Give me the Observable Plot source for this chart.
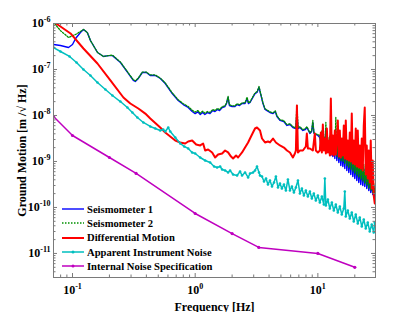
<!DOCTYPE html>
<html><head><meta charset="utf-8">
<script src="https://cdn.jsdelivr.net/npm/d3@7"></script>
<script src="https://cdn.jsdelivr.net/npm/@observablehq/plot@0.6"></script>
<style>
html,body{margin:0;padding:0;background:#fff;}
#wrap{position:relative;width:415px;height:312px;font-family:"Liberation Serif",serif;font-weight:bold;}
#legend{position:absolute;left:62px;top:202px;font-size:10.6px;color:#000;}
.row{display:flex;align-items:center;height:14.3px;white-space:nowrap;}
.row svg{margin-right:3px;display:block;}
</style></head><body><div id="wrap"><div id="chart"></div><div id="legend"></div></div>
<script>
// ---- data ----
const seriesNames = ["Seismometer 1","Seismometer 2","Differential Motion","Apparent Instrument Noise","Internal Noise Specification"];
const seriesColors = ["#0000ff","#009000","#ff0000","#00bfbf","#bf00bf"];

const fDense = [10.38,10.58,10.78,10.98,11.19,11.40,11.62,11.84,12.06,12.29,12.52,12.76,13.00,13.24,13.49,13.75,14.01,14.27,14.54,14.82,15.10,15.38,15.67,15.97,16.27,16.58,16.89,17.21,17.54,17.87,18.21,18.55,18.90,19.26,19.62,19.99,20.37,20.76,21.15,21.55,21.96,22.37,22.80,23.23,23.67,24.11,24.57,25.03,25.51,25.99,26.48,26.98,27.49,28.01,28.54,29.08];

const seis1Freq = [0.0701,0.0798,0.0928,0.1,0.106,0.116,0.123,0.132,0.140,0.160,0.179,0.195,0.212,0.246,0.285,0.313,0.325,0.344,0.371,0.40,0.43,0.473,0.52,0.57,0.65,0.727,0.80,0.877,0.945,1.0,1.05,1.1,1.15,1.2,1.26,1.32,1.39,1.45,1.52,1.58,1.66,1.75,1.80,1.854,1.90,2.0,2.11,2.2,2.3,2.41,2.55,2.647,2.72,2.8,2.95,3.075,3.19,3.314,3.44,3.57,3.71,3.85,4.07,4.31,4.5,4.64,4.91,5.28,5.60,5.92,6.26,6.6,6.75,6.9,7.14,7.55,7.9,8.15,8.61,8.9,9.10,9.3,9.6,10.0];
const seis1Amp = [3.5e-7,3.32e-7,3.0e-7,3.5e-7,4.72e-7,6.37e-7,7.4e-7,6.37e-7,4.27e-7,2.34e-7,1.92e-7,2.0e-7,2.0e-7,1.42e-7,8.2e-8,5.8e-8,5.5e-8,6.4e-8,8.6e-8,8.6e-8,7.4e-8,7.4e-8,6.37e-8,4.96e-8,3.0e-8,2.12e-8,1.73e-8,1.49e-8,1.22e-8,1.10e-8,1.2e-8,1.05e-8,1.16e-8,1.05e-8,1.16e-8,1.10e-8,1.28e-8,1.22e-8,1.35e-8,1.28e-8,1.49e-8,1.57e-8,1.82e-8,2.46e-8,1.65e-8,1.57e-8,1.57e-8,1.73e-8,1.65e-8,1.82e-8,1.82e-8,2.34e-8,1.82e-8,1.92e-8,2.46e-8,3.0e-8,3.16e-8,4.06e-8,2.72e-8,1.82e-8,1.35e-8,1.28e-8,1.16e-8,1.10e-8,1.22e-8,9.5e-9,7.8e-9,7.4e-9,6.07e-9,6.37e-9,5.48e-9,5.2e-9,1.05e-8,5.2e-9,5.48e-9,4.72e-9,4.96e-9,5.48e-9,4.06e-9,4.49e-9,7.05e-9,4.06e-9,3.87e-9,3.68e-9];
const seis1AmpDense = [3.32e-9,2.23e-9,3.87e-9,2.12e-9,3.16e-9,1.92e-9,5.21e-9,1.73e-9,2.86e-9,1.57e-9,3.16e-9,1.35e-9,2.59e-9,1.28e-9,2.86e-9,1.16e-9,3.87e-9,1.05e-9,2.23e-9,9.5e-10,2.12e-9,8.19e-10,1.92e-9,7.78e-10,1.73e-9,7.05e-10,2.86e-9,6.37e-10,1.57e-9,5.77e-10,1.35e-9,5.21e-10,1.73e-9,4.72e-10,1.16e-9,4.27e-10,1.05e-9,3.87e-10,9.5e-10,3.50e-10,8.19e-10,3.16e-10,7.78e-10,3.01e-10,7.05e-10,2.86e-10,6.37e-10,2.59e-10,5.21e-10,2.34e-10,4.27e-10,2.12e-10,3.50e-10,1.92e-10,2.86e-10,1.73e-10];

const seis2Freq = [0.0714,0.0798,0.0928,0.106,0.116,0.123,0.132,0.140,0.160,0.179,0.195,0.212,0.246,0.285,0.313,0.325,0.344,0.371,0.40,0.43,0.473,0.52,0.57,0.65,0.727,0.80,0.877,0.945,1.0,1.05,1.1,1.15,1.2,1.26,1.32,1.39,1.45,1.52,1.58,1.66,1.75,1.80,1.854,1.90,2.0,2.11,2.2,2.3,2.41,2.55,2.647,2.72,2.8,2.95,3.075,3.19,3.314,3.44,3.57,3.71,3.85,4.07,4.31,4.5,4.64,4.91,5.28,5.60,5.92,6.26,6.6,6.75,6.9,7.14,7.55,7.9,8.15,8.61,8.9,9.10,9.3,9.6,10.0];
const seis2Amp = [1.0e-6,7.0e-7,4.96e-7,5.77e-7,6.7e-7,7.4e-7,6.37e-7,4.27e-7,2.34e-7,1.92e-7,2.0e-7,2.05e-7,1.45e-7,8.4e-8,6.0e-8,5.7e-8,6.5e-8,8.8e-8,8.8e-8,7.6e-8,7.6e-8,6.5e-8,5.1e-8,3.1e-8,2.2e-8,1.8e-8,1.57e-8,1.3e-8,1.18e-8,1.28e-8,1.12e-8,1.24e-8,1.12e-8,1.22e-8,1.16e-8,1.35e-8,1.28e-8,1.42e-8,1.35e-8,1.55e-8,1.62e-8,1.9e-8,2.6e-8,1.72e-8,1.62e-8,1.62e-8,1.8e-8,1.7e-8,1.88e-8,1.88e-8,2.5e-8,1.88e-8,1.98e-8,2.55e-8,3.1e-8,3.3e-8,4.27e-8,2.8e-8,1.88e-8,1.4e-8,1.32e-8,1.2e-8,1.14e-8,1.26e-8,9.8e-9,8.1e-9,7.7e-9,6.3e-9,6.6e-9,5.7e-9,5.4e-9,1.65e-8,5.4e-9,5.7e-9,4.9e-9,5.2e-9,5.7e-9,4.2e-9,4.7e-9,7.78e-9,4.2e-9,4.0e-9,3.8e-9];
const seis2AmpDense = [3.68e-9,2.59e-9,4.72e-9,2.46e-9,3.50e-9,2.23e-9,7.05e-9,2.01e-9,3.32e-9,1.82e-9,3.68e-9,1.65e-9,3.01e-9,1.57e-9,3.32e-9,1.42e-9,9.05e-9,1.28e-9,2.59e-9,1.16e-9,2.46e-9,1.05e-9,2.23e-9,1.0e-9,2.01e-9,9.05e-10,3.50e-9,8.19e-10,1.82e-9,7.41e-10,1.73e-9,6.70e-10,2.01e-9,6.07e-10,1.42e-9,5.48e-10,1.28e-9,4.96e-10,1.16e-9,4.49e-10,1.05e-9,4.06e-10,9.5e-10,3.68e-10,8.6e-10,3.32e-10,7.78e-10,3.01e-10,6.37e-10,2.59e-10,5.21e-10,2.34e-10,4.27e-10,2.12e-10,3.32e-10,1.92e-10];

const diffFreq = [0.0714,0.0798,0.0964,0.1228,0.1597,0.2037,0.260,0.296,0.344,0.392,0.4305,0.519,0.570,0.626,0.688,0.755,0.829,0.877,0.945,1.019,1.098,1.161,1.206,1.275,1.375,1.454,1.538,1.658,1.753,1.854,1.96,2.037,2.154,2.237,2.41,2.55,2.70,2.80,2.96,3.075,3.19,3.314,3.376,3.505,3.71,3.92,4.07,4.31,4.55,4.91,5.29,5.60,5.92,6.26,6.50,6.62,6.75,6.88,7.14,7.55,7.98,8.13,8.29,8.61,9.10,9.45,9.63,10.0];
const diffAmp = [1.05e-6,8.6e-7,6.07e-7,2.86e-7,1.35e-7,5.77e-8,2.46e-8,1.82e-8,1.42e-8,1.10e-8,8.6e-9,5.48e-9,4.27e-9,3.50e-9,2.86e-9,2.59e-9,2.46e-9,2.72e-9,2.86e-9,2.34e-9,2.23e-9,2.46e-9,1.73e-9,1.82e-9,1.57e-9,1.22e-9,1.42e-9,1.49e-9,1.73e-9,1.57e-9,1.28e-9,1.16e-9,1.35e-9,1.22e-9,1.57e-9,2.01e-9,2.59e-9,3.16e-9,4.27e-9,5.21e-9,5.48e-9,4.96e-9,4.72e-9,3.16e-9,2.59e-9,2.72e-9,2.59e-9,3.16e-9,2.59e-9,2.23e-9,2.01e-9,1.73e-9,1.57e-9,1.22e-9,1.49e-9,1.73e-9,1.65e-8,1.57e-9,1.73e-9,1.73e-9,2.12e-9,4.06e-9,1.92e-9,1.92e-9,1.73e-9,4.06e-9,1.73e-9,1.57e-9];
const diffAmpDense = [1.73e-9,4.27e-9,1.57e-9,6.37e-9,1.73e-9,3.16e-9,1.49e-9,5.21e-9,1.57e-9,2.86e-9,1.35e-9,2.34e-8,1.42e-9,3.68e-9,1.35e-9,4.72e-9,1.42e-9,2.86e-9,7.78e-9,1.28e-9,4.72e-9,1.22e-9,3.16e-9,1.35e-9,6.07e-9,1.16e-9,7.78e-9,1.10e-9,2.86e-9,1.05e-9,4.27e-9,1.0e-9,1.10e-8,9.05e-10,2.86e-9,8.6e-10,5.21e-9,7.78e-10,4.72e-9,7.41e-10,2.23e-9,7.05e-10,3.16e-9,6.37e-10,6.07e-9,1.49e-8,5.21e-10,2.23e-9,4.27e-10,1.73e-9,3.50e-10,2.86e-9,2.59e-10,1.05e-9,1.82e-10,1.22e-10];

const appFreqLow = [0.0701,0.0798,0.0946,0.1078,0.1228,0.140,0.1597,0.1854,0.2115,0.2455,0.280,0.3076,0.3377,0.378,0.4305,0.473,0.519,0.549,0.570,0.603,0.626,0.688,0.755,0.814,0.877,0.945,1.0,1.098,1.206,1.324,1.427,1.509,1.597,1.658,1.753,1.854,1.925,2.037,2.195,2.321,2.41,2.55,2.70,2.80,2.96,3.075,3.19,3.314,3.376];
const appAmpLow = [3.0e-7,2.46e-7,1.92e-7,1.42e-7,1.0e-7,7.4e-8,5.2e-8,3.68e-8,2.72e-8,2.01e-8,1.49e-8,1.16e-8,9.05e-9,7.05e-9,5.77e-9,5.21e-9,4.72e-9,4.96e-9,4.49e-9,5.48e-9,4.49e-9,3.32e-9,2.46e-9,2.12e-9,1.92e-9,1.57e-9,1.49e-9,1.22e-9,1.05e-9,9.5e-10,7.78e-10,7.41e-10,7.78e-10,6.70e-10,6.37e-10,5.77e-10,6.37e-10,5.21e-10,4.96e-10,6.07e-10,4.96e-10,5.77e-10,4.49e-10,5.48e-10,5.77e-10,6.37e-10,7.78e-10,5.77e-10,4.96e-10];
const appFreqHigh = [3.505,3.64,3.78,3.92,4.07,4.23,4.39,4.55,4.73,4.91,5.09,5.29,5.49,5.70,5.92,6.14,6.38,6.62,6.88,7.14,7.41,7.69,7.98,8.29,8.61,8.93,9.27,9.63,10.0,10.38,10.78,11.19,11.40,11.62,12.06,12.52,13.00,13.49,14.01,14.54,15.10,15.67,16.27,16.58,16.89,17.54,18.21,18.90,19.62,20.37,21.15,21.96,22.80,23.67,24.57,25.51,26.48,27.49,28.54,29.08];
const appAmpHigh = [4.72e-10,3.68e-10,4.27e-10,3.16e-10,3.87e-10,2.86e-10,3.50e-10,4.72e-10,2.72e-10,3.32e-10,2.59e-10,3.16e-10,2.34e-10,4.06e-10,2.34e-10,2.86e-10,2.12e-10,2.72e-10,3.87e-10,2.01e-10,2.59e-10,1.82e-10,2.34e-10,1.73e-10,2.23e-10,1.57e-10,2.01e-10,1.42e-10,1.82e-10,1.28e-10,1.73e-10,1.16e-10,4.27e-10,1.10e-10,1.49e-10,9.5e-11,1.28e-10,8.6e-11,1.16e-10,7.78e-11,1.05e-10,7.05e-11,9.5e-11,2.23e-10,6.37e-11,8.6e-11,5.77e-11,7.78e-11,4.96e-11,7.05e-11,4.49e-11,6.07e-11,3.87e-11,5.48e-11,3.50e-11,4.72e-11,3.01e-11,4.27e-11,2.86e-11,4.72e-11];

const specFreq = [0.07,0.1,0.2,0.33,1,2,3.3,10,20];
const specAmp = [9.5e-9,3.67e-9,1.22e-9,5.5e-10,7.4e-11,2.7e-11,1.35e-11,1.0e-11,5.0e-12];

const xMajor = [0.1,1,10];
const xMinor = [0.07,0.08,0.09,0.2,0.3,0.4,0.5,0.6,0.7,0.8,0.9,2,3,4,5,6,7,8,9,20];
const yMajor = [1e-11,1e-10,1e-9,1e-8,1e-7,1e-6];
const yMinor = [3e-12,4e-12,5e-12,6e-12,7e-12,8e-12,9e-12,
 2e-11,3e-11,4e-11,5e-11,6e-11,7e-11,8e-11,9e-11,
 2e-10,3e-10,4e-10,5e-10,6e-10,7e-10,8e-10,9e-10,
 2e-9,3e-9,4e-9,5e-9,6e-9,7e-9,8e-9,9e-9,
 2e-8,3e-8,4e-8,5e-8,6e-8,7e-8,8e-8,9e-8,
 2e-7,3e-7,4e-7,5e-7,6e-7,7e-7,8e-7,9e-7];

// ---- tables ----
const toRows = (fs, vs) => fs.map((f, i) => ({f, v: vs[i]}));
const seis1 = toRows(seis1Freq.concat(fDense), seis1Amp.concat(seis1AmpDense));
const seis2 = toRows(seis2Freq.concat(fDense), seis2Amp.concat(seis2AmpDense));
const diff = toRows(diffFreq.concat(fDense), diffAmp.concat(diffAmpDense));
const app = toRows(appFreqLow.concat(appFreqHigh), appAmpLow.concat(appAmpHigh));
const spec = toRows(specFreq, specAmp);

const W = 415, H = 312, mL = 53, mT = 23, mR = 40, mB = 35;
const iw = W - mL - mR, ih = H - mT - mB;
const gray = "#7a7a7a";
const majorLen = 4, minorLen = 2.5;
const fmt = d => "10^" + Math.round(Math.log10(d));

const chart = Plot.plot({
  width: W, height: H,
  marginLeft: mL, marginTop: mT, marginRight: mR, marginBottom: mB,
  x: {type: "log", domain: [0.07, 29.5]},
  y: {type: "log", domain: [3e-12, 1e-6]},
  style: {fontFamily: "'Liberation Serif', serif", fontWeight: "bold", fontSize: "11.5px", color: "#000", background: "#fff"},
  marks: [
    Plot.line(seis1, {x: "f", y: "v", stroke: seriesColors[0], strokeWidth: 1.4, clip: true}),
    Plot.line(seis2, {x: "f", y: "v", stroke: seriesColors[1], strokeWidth: 1.3, strokeDasharray: "1.5,1.5", clip: true}),
    Plot.line(diff, {x: "f", y: "v", stroke: seriesColors[2], strokeWidth: 2, clip: true}),
    Plot.line(app, {x: "f", y: "v", stroke: seriesColors[3], strokeWidth: 1.5, clip: true}),
    Plot.dot(app, {x: "f", y: "v", r: 1.3, fill: seriesColors[3], clip: true}),
    Plot.line(spec, {x: "f", y: "v", stroke: seriesColors[4], strokeWidth: 1.5, clip: true}),
    Plot.dot(spec, {x: "f", y: "v", r: 1.6, fill: seriesColors[4], clip: true}),
    // inward ticks on all four sides
    Plot.ruleX(xMajor, {x: d => d, insetTop: ih - majorLen, stroke: gray}),
    Plot.ruleX(xMajor, {x: d => d, insetBottom: ih - majorLen, stroke: gray}),
    Plot.ruleX(xMinor, {x: d => d, insetTop: ih - minorLen, stroke: gray}),
    Plot.ruleX(xMinor, {x: d => d, insetBottom: ih - minorLen, stroke: gray}),
    Plot.ruleY(yMajor, {y: d => d, insetRight: iw - majorLen, stroke: gray}),
    Plot.ruleY(yMajor, {y: d => d, insetLeft: iw - majorLen, stroke: gray}),
    Plot.ruleY(yMinor, {y: d => d, insetRight: iw - minorLen, stroke: gray}),
    Plot.ruleY(yMinor, {y: d => d, insetLeft: iw - minorLen, stroke: gray}),
    Plot.frame({stroke: gray}),
    Plot.axisX(xMajor, {anchor: "bottom", tickSize: 0, tickPadding: 8, tickFormat: fmt, fontSize: 12,
      label: "Frequency [Hz]", labelAnchor: "center", labelArrow: "none", labelOffset: 33}),
    Plot.axisY(yMajor, {anchor: "left", tickSize: 0, tickPadding: 3, tickFormat: fmt, fontSize: 12,
      label: "Ground Motion [m /\u221A Hz]", labelAnchor: "center", labelArrow: "none", labelOffset: 36})
  ]
});
document.getElementById("chart").appendChild(chart);

// superscript exponents on the tick labels
const NS = "http://www.w3.org/2000/svg";
chart.querySelectorAll('g[aria-label$="tick label"] text').forEach(t => {
  const s = t.textContent;
  if (!s.includes("^")) return;
  const [b, e] = s.split("^");
  t.textContent = b;
  const ts = document.createElementNS(NS, "tspan");
  ts.setAttribute("dy", "-5");
  ts.setAttribute("font-size", "8");
  ts.textContent = e;
  t.appendChild(ts);
});

// legend
const legendStyles = [
  {dash: null, w: 1.4, marker: false},
  {dash: "1.5,1.5", w: 1.3, marker: false},
  {dash: null, w: 2, marker: false},
  {dash: null, w: 1.5, marker: true},
  {dash: null, w: 1.5, marker: true}
];
const leg = document.getElementById("legend");
seriesNames.forEach((name, i) => {
  const row = document.createElement("div");
  row.className = "row";
  const s = legendStyles[i];
  row.innerHTML = `<svg width="22" height="8"><line x1="0" y1="4" x2="22" y2="4" stroke="${seriesColors[i]}" stroke-width="${s.w}" ${s.dash ? `stroke-dasharray="${s.dash}"` : ""}/>${s.marker ? `<circle cx="11" cy="4" r="1.5" fill="${seriesColors[i]}"/>` : ""}</svg><span>${name}</span>`;
  leg.appendChild(row);
});
</script></body></html>
